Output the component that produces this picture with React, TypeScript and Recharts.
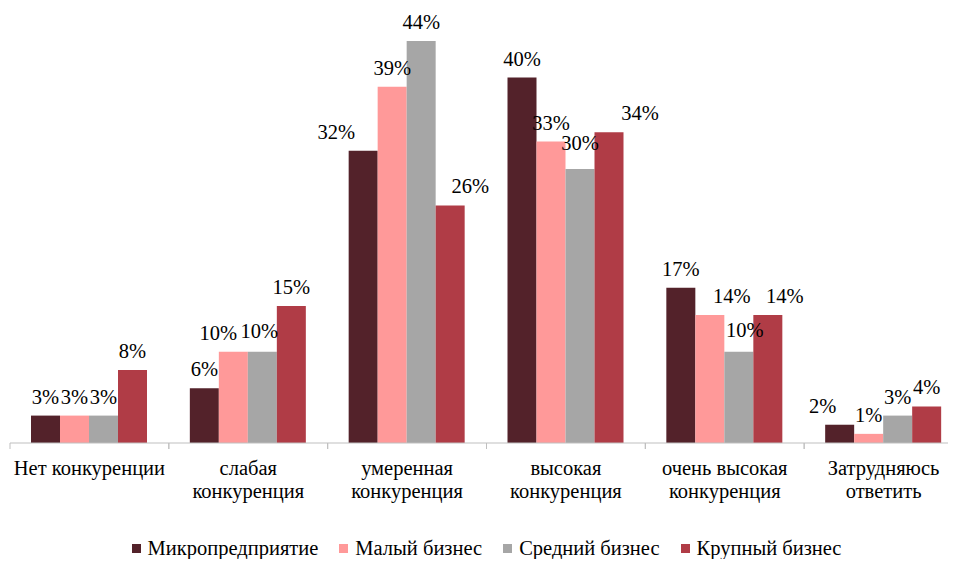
import React from "react";
import { BarChart, Bar, XAxis, YAxis, LabelList, Legend } from "recharts";

const categories = [
  "Нет конкуренции",
  "слабая\nконкуренция",
  "умеренная\nконкуренция",
  "высокая\nконкуренция",
  "очень высокая\nконкуренция",
  "Затрудняюсь\nответить",
];

const micro = [3, 6, 32, 40, 17, 2];
const small = [3, 10, 39, 33, 14, 1];
const medium = [3, 10, 44, 30, 10, 3];
const large = [8, 15, 26, 34, 14, 4];

const seriesNames = ["Микропредприятие", "Малый бизнес", "Средний бизнес", "Крупный бизнес"];
const seriesColors = ["#53222A", "#FF9999", "#A6A6A6", "#B03C46"];

// label nudges (px) copied from how the labels sit in the original
const labelDx = [
  [0, 0, -27, 0, 0, -17],
  [0, -15, 0, 0, 22, 0],
  [0, -3, 0, 0, 6, 0],
  [0, 0, 20, 31, 17, 0],
];
const labelDy = [
  [0, 0, 0, 0, 0, 0],
  [0, 0, 0, 0, 0, 0],
  [0, -2, 0, -7, -3, 0],
  [0, 0, 0, 0, 0, 0],
];

const data = categories.map((c, i) => ({
  name: c,
  s0: micro[i],
  s1: small[i],
  s2: medium[i],
  s3: large[i],
}));

const FONT = "Liberation Serif";
const FS = 20.5;
const CAT_W = (963 - 10) / categories.length;

const CategoryTick = (props: any) => {
  const { x, y, payload } = props;
  const lines = String(payload.value).split("\n");
  return (
    <g>
      <line x1={x - CAT_W / 2} x2={x - CAT_W / 2} y1={y - 8} y2={y - 2} stroke="#BFBFBF" />
      <line x1={x + CAT_W / 2} x2={x + CAT_W / 2} y1={y - 8} y2={y - 2} stroke="#BFBFBF" />
      <text x={x} y={y + 24} textAnchor="middle" style={{ fontFamily: FONT, fontSize: FS }} fill="#000">
        {lines.map((l, i) => (
          <tspan key={i} x={x} dy={i === 0 ? 0 : 23}>
            {l}
          </tspan>
        ))}
      </text>
    </g>
  );
};

const makeLabel = (si: number) => (props: any) => {
  const { x, y, width, value, index } = props;
  return (
    <text
      x={x + width / 2 + labelDx[si][index]}
      y={y - 12 + labelDy[si][index]}
      textAnchor="middle"
      style={{ fontFamily: FONT, fontSize: FS }}
      fill="#000"
    >
      {value}%
    </text>
  );
};

const LegendContent = () => (
  <div
    style={{
      height: 40,
      boxSizing: "border-box",
      paddingTop: 2,
      display: "flex",
      justifyContent: "center",
      alignItems: "center",
      fontFamily: FONT,
      fontSize: FS,
      lineHeight: "24px",
      color: "#000",
    }}
  >
    {seriesNames.map((n, i) => (
      <div key={n} style={{ display: "flex", alignItems: "center", marginRight: i < 3 ? 21 : 0 }}>
        <span style={{ width: 9, height: 9, background: seriesColors[i], marginRight: 7, display: "inline-block" }} />
        <span>{n}</span>
      </div>
    ))}
  </div>
);

export default function App() {
  return (
    <div style={{ margin: -8, width: 956, height: 567, background: "#fff" }}>
      <BarChart
        width={956}
        height={567}
        data={data}
        margin={{ top: 41, right: -7, left: 10, bottom: 0 }}
        barGap={0}
        barSize={29}
      >
        <XAxis
          dataKey="name"
          axisLine={{ stroke: "#BFBFBF" }}
          tickLine={false}
          interval={0}
          height={84}
          tick={<CategoryTick />}
        />
        <YAxis hide domain={[0, 44]} />
        <Legend verticalAlign="bottom" content={<LegendContent />} wrapperStyle={{ height: 40 }} />
        {[0, 1, 2, 3].map((si) => (
          <Bar
            key={si}
            dataKey={`s${si}`}
            name={seriesNames[si]}
            fill={seriesColors[si]}
            isAnimationActive={false}
          >
            <LabelList dataKey={`s${si}`} content={makeLabel(si)} />
          </Bar>
        ))}
      </BarChart>
    </div>
  );
}
